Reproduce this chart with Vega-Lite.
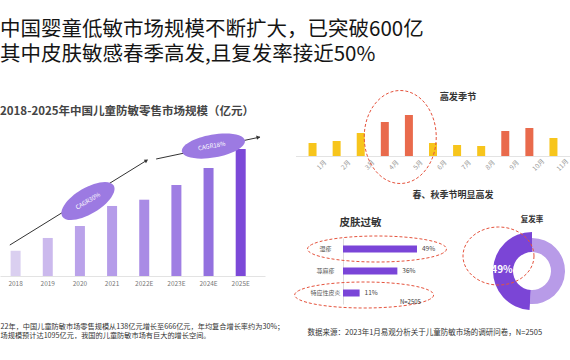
{
  "$schema": "https://vega.github.io/schema/vega-lite/v6.json",
  "padding": {"left": 0, "top": 20, "right": 0, "bottom": 0},
  "background": "white",
  "config": {
    "view": {"stroke": null},
    "font": "Noto Sans CJK SC",
    "axis": {"grid": false, "ticks": false, "labelOverlap": false}
  },
  "title": {
    "text": ["中国婴童低敏市场规模不断扩大，已突破600亿", "其中皮肤敏感春季高发,且复发率接近50%"],
    "anchor": "start",
    "frame": "group",
    "fontSize": 20.5,
    "fontWeight": "normal",
    "color": "#151515",
    "lineHeight": 25,
    "offset": 23
  },
  "bounds": "flush",
  "spacing": 30.5,
  "resolve": {"scale": {"color": "independent"}},
  "hconcat": [
    {
      "width": 265,
      "height": 173,
      "title": {
        "text": "2018-2025年中国儿童防敏零售市场规模（亿元）",
        "anchor": "start",
        "frame": "group",
        "fontSize": 11.5,
        "fontWeight": "bold",
        "color": "#444444",
        "offset": -14
      },
      "layer": [
        {
          "data": {"values": [
            {"year": "2018", "i": 0, "v": 218},
            {"year": "2019", "i": 1, "v": 328},
            {"year": "2020", "i": 2, "v": 431},
            {"year": "2021", "i": 3, "v": 604},
            {"year": "2022E", "i": 4, "v": 658},
            {"year": "2023E", "i": 5, "v": 785},
            {"year": "2024E", "i": 6, "v": 931},
            {"year": "2025E", "i": 7, "v": 1095}
          ]},
          "mark": {"type": "bar", "width": 10},
          "encoding": {
            "x": {
              "field": "i", "type": "quantitative",
              "scale": {"domain": [-0.33, 7.6], "nice": false, "zero": false},
              "axis": {
                "labels": false,
                "domainColor": "#e3e3e3",
                "title": ["22年，中国儿童防敏市场零售规模从138亿元增长至666亿元，年均复合增长率约为30%；", "场规模预计达1095亿元，我国的儿童防敏市场有巨大的增长空间。"],
                "titleX": 0,
                "titleY": 46,
                "titleAlign": "left",
                "titleBaseline": "top",
                "titleFontSize": 7.2,
                "titleFontWeight": "normal",
                "titleColor": "#333333",
                "titleLineHeight": 9.4
              }
            },
            "y": {"field": "v", "type": "quantitative", "scale": {"domain": [0, 1492], "nice": false}, "axis": null},
            "color": {
              "field": "year", "type": "nominal",
              "scale": {
                "domain": ["2018", "2019", "2020", "2021", "2022E", "2023E", "2024E", "2025E"],
                "range": ["#dacff0", "#cbb9ed", "#baa2ea", "#b59ce9", "#a98be5", "#9f7ee3", "#9371df", "#7c49d8"]
              },
              "legend": null
            }
          }
        },
        {
          "data": {"values": [
            {"year": "2018", "i": 0},
            {"year": "2019", "i": 1},
            {"year": "2020", "i": 2},
            {"year": "2021", "i": 3},
            {"year": "2022E", "i": 4},
            {"year": "2023E", "i": 5},
            {"year": "2024E", "i": 6},
            {"year": "2025E", "i": 7}
          ]},
          "mark": {"type": "text", "dy": 8, "fontSize": 6.5, "color": "#777777", "baseline": "middle", "align": "center"},
          "encoding": {
            "x": {"field": "i", "type": "quantitative"},
            "y": {"datum": 0, "type": "quantitative"},
            "text": {"field": "year"}
          }
        },
        {
          "data": {"values": [{}]},
          "mark": {"type": "rule", "color": "#333333", "strokeWidth": 1},
          "encoding": {
            "x": {"datum": -0.18, "type": "quantitative"},
            "y": {"datum": 267, "type": "quantitative"},
            "x2": {"datum": 4.07},
            "y2": {"datum": 996}
          }
        },
        {
          "data": {"values": [{}]},
          "mark": {"type": "rule", "color": "#333333", "strokeWidth": 1},
          "encoding": {
            "x": {"datum": 4.37, "type": "quantitative"},
            "y": {"datum": 1009, "type": "quantitative"},
            "x2": {"datum": 7.6},
            "y2": {"datum": 1198}
          }
        },
        {
          "data": {"values": [{}]},
          "mark": {"type": "point", "shape": "triangle-right", "size": 18, "filled": true, "color": "#333333", "opacity": 1, "angle": -31},
          "encoding": {
            "x": {"datum": 4.07, "type": "quantitative"},
            "y": {"datum": 996, "type": "quantitative"}
          }
        },
        {
          "data": {"values": [{}]},
          "mark": {"type": "point", "shape": "triangle-right", "size": 18, "filled": true, "color": "#333333", "opacity": 1, "angle": -11.5},
          "encoding": {
            "x": {"datum": 7.55, "type": "quantitative"},
            "y": {"datum": 1196, "type": "quantitative"}
          }
        },
        {
          "data": {"values": [{}]},
          "mark": {"type": "point", "shape": "M30,0C30,7.18,16.57,13,0,13C-16.57,13,-30,7.18,-30,0C-30,-7.18,-16.57,-13,0,-13C16.57,-13,30,-7.18,30,0Z", "size": 4, "filled": true, "color": "#9c7ae2", "opacity": 1, "angle": -31},
          "encoding": {
            "x": {"datum": 2.25, "type": "quantitative"},
            "y": {"datum": 647, "type": "quantitative"}
          }
        },
        {
          "data": {"values": [{}]},
          "mark": {"type": "text", "text": "CAGR30%", "fontSize": 6, "color": "white", "angle": -31, "align": "center", "baseline": "middle"},
          "encoding": {
            "x": {"datum": 2.25, "type": "quantitative"},
            "y": {"datum": 647, "type": "quantitative"}
          }
        },
        {
          "data": {"values": [{}]},
          "mark": {"type": "point", "shape": "M32,0C32,6.35,17.67,11.5,0,11.5C-17.67,11.5,-32,6.35,-32,0C-32,-6.35,-17.67,-11.5,0,-11.5C17.67,-11.5,32,-6.35,32,0Z", "size": 4, "filled": true, "color": "#9c7ae2", "opacity": 1, "angle": -10},
          "encoding": {
            "x": {"datum": 6.15, "type": "quantitative"},
            "y": {"datum": 1121, "type": "quantitative"}
          }
        },
        {
          "data": {"values": [{}]},
          "mark": {"type": "text", "text": "CAGR18%", "fontSize": 6, "color": "white", "angle": -10, "align": "center", "baseline": "middle"},
          "encoding": {
            "x": {"datum": 6.1, "type": "quantitative"},
            "y": {"datum": 1121, "type": "quantitative"}
          }
        }
      ]
    },
    {
      "bounds": "flush",
      "spacing": 82,
      "resolve": {"scale": {"color": "independent"}},
      "vconcat": [
        {
          "width": 275,
          "height": 53,
          "title": {
            "text": "高发季节",
            "anchor": "middle",
            "frame": "group",
            "dx": 25,
            "fontSize": 9.2,
            "fontWeight": "bold",
            "color": "#333333",
            "offset": -13.5
          },
          "layer": [
            {
              "data": {"values": [
                {"month": "1月", "m": 1, "v": 13, "type": "普通月"},
                {"month": "2月", "m": 2, "v": 15, "type": "普通月"},
                {"month": "3月", "m": 3, "v": 23, "type": "普通月"},
                {"month": "4月", "m": 4, "v": 34, "type": "高发月"},
                {"month": "5月", "m": 5, "v": 41, "type": "高发月"},
                {"month": "6月", "m": 6, "v": 13, "type": "普通月"},
                {"month": "7月", "m": 7, "v": 11, "type": "普通月"},
                {"month": "8月", "m": 8, "v": 10, "type": "普通月"},
                {"month": "9月", "m": 9, "v": 25, "type": "高发月"},
                {"month": "10月", "m": 10, "v": 28, "type": "高发月"},
                {"month": "11月", "m": 11, "v": 18, "type": "普通月"}
              ]},
              "mark": {"type": "bar", "width": 8},
              "encoding": {
                "x": {
                  "field": "m", "type": "quantitative",
                  "scale": {"domain": [0.5, 11.5], "nice": false, "zero": false},
                  "axis": {
                    "labels": false,
                    "domainColor": "#e3e3e3",
                    "title": "春、秋季节明显高发",
                    "titleFontSize": 9,
                    "titleFontWeight": "bold",
                    "titleColor": "#333333",
                    "titleX": 157,
                    "titleY": 38,
                    "titleAlign": "center",
                    "titleBaseline": "middle"
                  }
                },
                "y": {"field": "v", "type": "quantitative", "scale": {"domain": [0, 53], "nice": false}, "axis": null},
                "color": {
                  "field": "type", "type": "nominal",
                  "scale": {"domain": ["高发月", "普通月"], "range": ["#e96a4c", "#f7c51c"]},
                  "legend": null
                }
              }
            },
            {
              "data": {"values": [
                {"month": "1月", "m": 1},
                {"month": "2月", "m": 2},
                {"month": "3月", "m": 3},
                {"month": "4月", "m": 4},
                {"month": "5月", "m": 5},
                {"month": "6月", "m": 6},
                {"month": "7月", "m": 7},
                {"month": "8月", "m": 8},
                {"month": "9月", "m": 9},
                {"month": "10月", "m": 10},
                {"month": "11月", "m": 11}
              ]},
              "mark": {"type": "text", "dy": 13, "angle": -45, "fontSize": 6.5, "color": "#999999", "align": "center", "baseline": "middle"},
              "encoding": {
                "x": {"field": "m", "type": "quantitative"},
                "y": {"datum": 0, "type": "quantitative"},
                "text": {"field": "month"}
              }
            },
            {
              "data": {"values": [{}]},
              "mark": {"type": "point", "shape": "M36,0C36,25.68,19.88,46.5,0,46.5C-19.88,46.5,-36,25.68,-36,0C-36,-25.68,-19.88,-46.5,0,-46.5C19.88,-46.5,36,-25.68,36,0Z", "size": 4, "filled": false, "stroke": "#e5533d", "strokeWidth": 1, "strokeDash": [3, 2], "opacity": 1},
              "encoding": {
                "x": {"datum": 4.64, "type": "quantitative"},
                "y": {"datum": 19, "type": "quantitative"}
              }
            }
          ]
        },
        {
          "bounds": "flush",
          "spacing": 8.5,
          "resolve": {"scale": {"color": "independent"}},
          "hconcat": [
            {
              "width": 190,
              "height": 66,
              "title": {
                "text": "皮肤过敏",
                "anchor": "start",
                "frame": "group",
                "dx": 44,
                "fontSize": 10.5,
                "fontWeight": "bold",
                "color": "#333333",
                "offset": 6
              },
              "layer": [
                {
                  "data": {"values": [
                    {"cat": "湿疹", "p": 0.49},
                    {"cat": "荨麻疹", "p": 0.36},
                    {"cat": "特应性皮炎", "p": 0.11}
                  ]},
                  "mark": {"type": "bar", "height": 7, "color": "#7a45d8"},
                  "encoding": {
                    "y": {
                      "field": "cat", "type": "nominal",
                      "scale": {"domain": ["湿疹", "荨麻疹", "特应性皮炎"], "paddingInner": 0, "paddingOuter": 0},
                      "axis": {
                        "orient": "left",
                        "offset": -47.5,
                        "domainColor": "#dcdcdc",
                        "labelFontSize": 6,
                        "labelColor": "#555555",
                        "labelAlign": "center",
                        "labelPadding": 18,
                        "title": null
                      }
                    },
                    "x": {
                      "field": "p", "type": "quantitative",
                      "scale": {"domain": [-0.3146, 0.9437], "nice": false},
                      "axis": {
                        "labels": false,
                        "domain": false,
                        "title": "数据来源：2023年1月易观分析关于儿童防敏市场的调研问卷，N=2505",
                        "titleFontSize": 7.5,
                        "titleFontWeight": "normal",
                        "titleColor": "#333333",
                        "titleX": 11.5,
                        "titleY": 28,
                        "titleAlign": "left",
                        "titleBaseline": "middle"
                      }
                    }
                  }
                },
                {
                  "data": {"values": [
                    {"cat": "湿疹", "p": 0.49},
                    {"cat": "荨麻疹", "p": 0.36},
                    {"cat": "特应性皮炎", "p": 0.11}
                  ]},
                  "mark": {"type": "text", "align": "left", "baseline": "middle", "dx": 5, "fontSize": 6.5, "color": "#444444"},
                  "encoding": {
                    "y": {"field": "cat", "type": "nominal"},
                    "x": {"field": "p", "type": "quantitative"},
                    "text": {"field": "p", "type": "quantitative", "format": ".0%"}
                  }
                },
                {
                  "data": {"values": [{}]},
                  "mark": {"type": "point", "shape": "M69.5,0C69.5,7.18,38.38,13,0,13C-38.38,13,-69.5,7.18,-69.5,0C-69.5,-7.18,-38.38,-13,0,-13C38.38,-13,69.5,-7.18,69.5,0Z", "size": 4, "filled": false, "stroke": "#e5533d", "strokeWidth": 1, "strokeDash": [3, 2], "opacity": 1},
                  "encoding": {
                    "x": {"datum": 0.225, "type": "quantitative"},
                    "y": {"datum": "湿疹", "type": "nominal"}
                  }
                },
                {
                  "data": {"values": [{}]},
                  "mark": {"type": "point", "shape": "M69.5,0C69.5,7.18,38.38,13,0,13C-38.38,13,-69.5,7.18,-69.5,0C-69.5,-7.18,-38.38,-13,0,-13C38.38,-13,69.5,-7.18,69.5,0Z", "size": 4, "filled": false, "stroke": "#e5533d", "strokeWidth": 1, "strokeDash": [3, 2], "opacity": 1, "yOffset": 2},
                  "encoding": {
                    "x": {"datum": 0.14, "type": "quantitative"},
                    "y": {"datum": "特应性皮炎", "type": "nominal"}
                  }
                },
                {
                  "data": {"values": [{}]},
                  "mark": {"type": "text", "text": "N=2505", "align": "left", "baseline": "middle", "dy": 9, "fontSize": 6, "color": "#333333"},
                  "encoding": {
                    "x": {"datum": 0.377, "type": "quantitative"},
                    "y": {"datum": "特应性皮炎", "type": "nominal"}
                  }
                }
              ]
            },
            {
              "width": 76,
              "height": 66,
              "title": {
                "text": "复发率",
                "anchor": "middle",
                "frame": "group",
                "fontSize": 7.5,
                "fontWeight": "bold",
                "color": "#333333",
                "offset": 2
              },
              "layer": [
                {
                  "data": {"values": [{"type": "未复发", "v": 51, "k": 1}, {"type": "复发", "v": 49, "k": 2}]},
                  "mark": {"type": "arc", "innerRadius": 19, "outerRadius": 33, "color": "#b89be8"},
                  "encoding": {
                    "theta": {"field": "v", "type": "quantitative", "stack": true},
                    "order": {"field": "k"},
                    "opacity": {"condition": {"test": "datum.type === '未复发'", "value": 1}, "value": 0}
                  }
                },
                {
                  "data": {"values": [{"type": "未复发", "v": 51, "k": 1}, {"type": "复发", "v": 49, "k": 2}]},
                  "mark": {"type": "arc", "innerRadius": 19, "outerRadius": 39, "color": "#7b45d6"},
                  "encoding": {
                    "theta": {"field": "v", "type": "quantitative", "stack": true},
                    "order": {"field": "k"},
                    "opacity": {"condition": {"test": "datum.type === '复发'", "value": 1}, "value": 0}
                  }
                },
                {
                  "data": {"values": [{"type": "未复发", "v": 51, "k": 1}, {"type": "复发", "v": 49, "k": 2}]},
                  "mark": {"type": "text", "radius": 30, "fontSize": 10, "fontWeight": "bold", "color": "white"},
                  "encoding": {
                    "theta": {"field": "v", "type": "quantitative", "stack": true},
                    "order": {"field": "k"},
                    "text": {"value": "49%"},
                    "opacity": {"condition": {"test": "datum.type === '复发'", "value": 1}, "value": 0}
                  }
                },
                {
                  "data": {"values": [{}]},
                  "mark": {"type": "point", "shape": "M35.5,0C35.5,16.02,19.61,29,0,29C-19.61,29,-35.5,16.02,-35.5,0C-35.5,-16.02,-19.61,-29,0,-29C19.61,-29,35.5,-16.02,35.5,0Z", "size": 4, "filled": false, "stroke": "#e5533d", "strokeWidth": 1, "strokeDash": [3, 2], "opacity": 1, "xOffset": -33.5, "yOffset": -15},
                  "encoding": {}
                }
              ]
            }
          ]
        }
      ]
    }
  ]
}
